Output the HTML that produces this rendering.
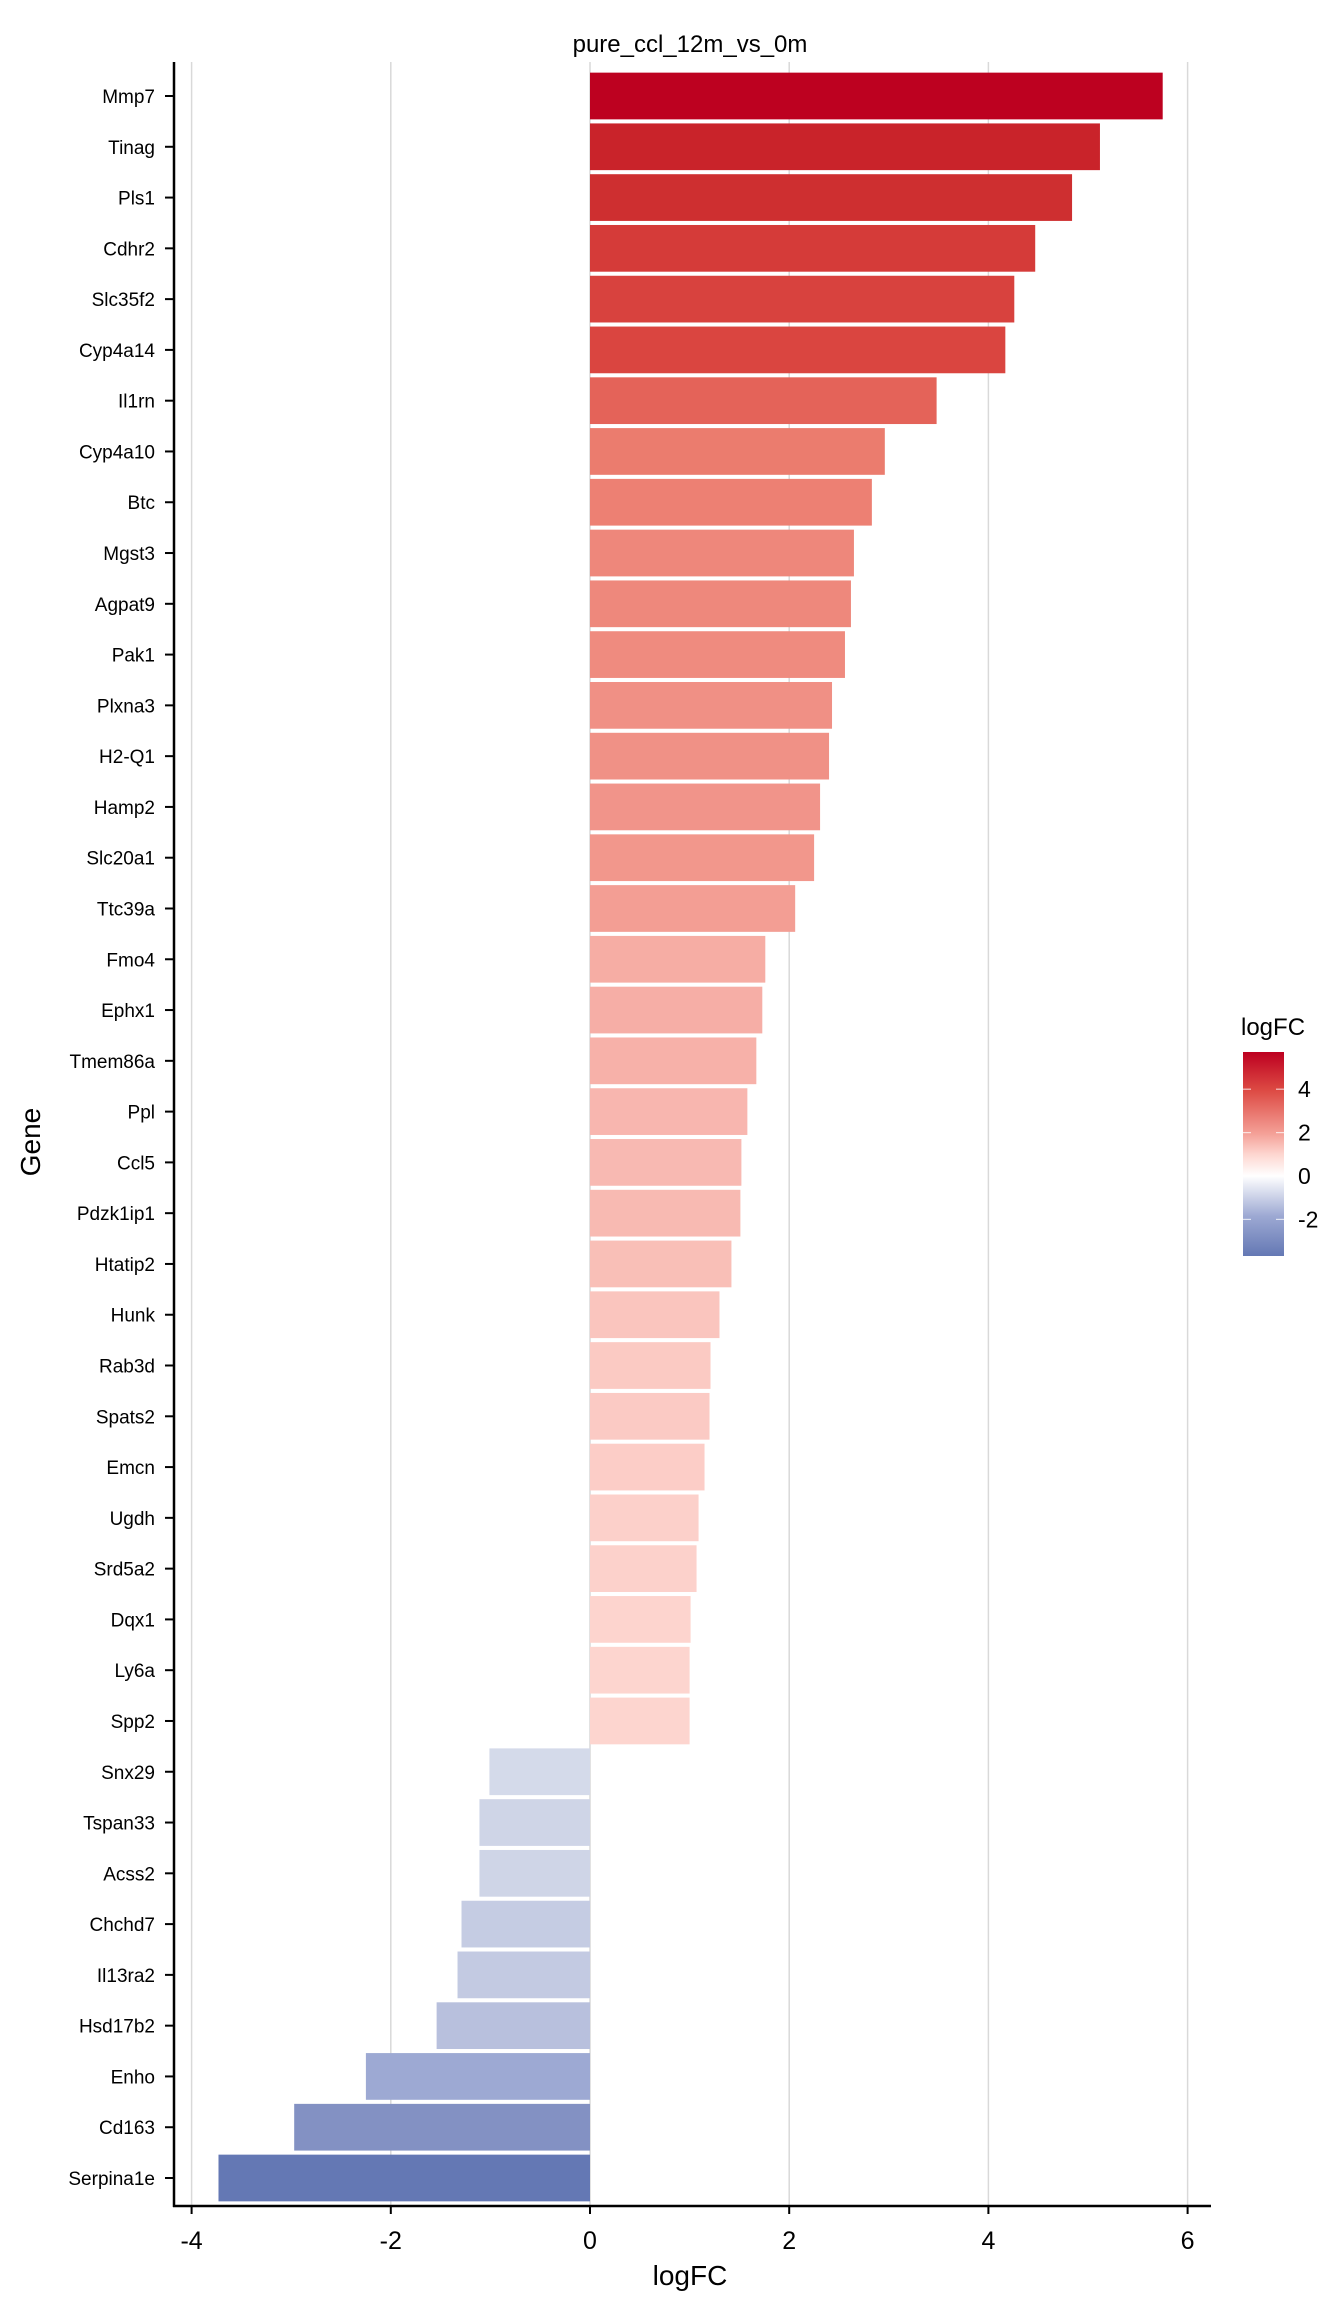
<!DOCTYPE html>
<html><head><meta charset="utf-8"><style>
body{margin:0;background:#fff;}
svg text{font-family:"Liberation Sans",Arial,sans-serif;fill:#000;}
</style></head><body>
<svg id="chart" width="1344" height="2304" xmlns="http://www.w3.org/2000/svg">
<defs><linearGradient id="lg" x1="0" y1="1" x2="0" y2="0">
<stop offset="0" stop-color="#6478B4"/><stop offset="0.196" stop-color="#9DA9D3"/><stop offset="0.393" stop-color="#FFFFFF"/><stop offset="0.5" stop-color="#FDD5CF"/><stop offset="0.6" stop-color="#F4A097"/><stop offset="0.81" stop-color="#DD4B44"/><stop offset="1" stop-color="#BD0020"/>
</linearGradient></defs>
<text x="690" y="52" font-size="24" text-anchor="middle">pure_ccl_12m_vs_0m</text>
<g id="grid"></g><g id="bars"></g><g id="yaxis"></g><g id="xaxis"></g>
<text x="690" y="2285" font-size="28" text-anchor="middle">logFC</text>
<text x="0" y="0" font-size="28" text-anchor="middle" transform="translate(40,1142) rotate(-90)">Gene</text>
<g>
<text x="1241" y="1035" font-size="24">logFC</text>
<rect x="1243" y="1052" width="41" height="204" fill="url(#lg)"/>
<g id="legticks"></g>
</g>
</svg>
<script>
const genes=["Mmp7","Tinag","Pls1","Cdhr2","Slc35f2","Cyp4a14","Il1rn","Cyp4a10","Btc","Mgst3","Agpat9","Pak1","Plxna3","H2-Q1","Hamp2","Slc20a1","Ttc39a","Fmo4","Ephx1","Tmem86a","Ppl","Ccl5","Pdzk1ip1","Htatip2","Hunk","Rab3d","Spats2","Emcn","Ugdh","Srd5a2","Dqx1","Ly6a","Spp2","Snx29","Tspan33","Acss2","Chchd7","Il13ra2","Hsd17b2","Enho","Cd163","Serpina1e"];
const logFC=[5.75,5.12,4.84,4.47,4.26,4.17,3.48,2.96,2.83,2.65,2.62,2.56,2.43,2.40,2.31,2.25,2.06,1.76,1.73,1.67,1.58,1.52,1.51,1.42,1.30,1.21,1.20,1.15,1.09,1.07,1.01,1.00,1.00,-1.01,-1.11,-1.11,-1.29,-1.33,-1.54,-2.25,-2.97,-3.73];
const xTicks=[-4,-2,0,2,4,6];
const legTicks=[4,2,0,-2];
const NS="http://www.w3.org/2000/svg";
const x0=590,ux=99.6,yTop=96,pitch=(2178-96)/(genes.length-1),bh=pitch*0.92;
const X=v=>x0+v*ux, Y=i=>yTop+i*pitch;
const hex=h=>[1,3,5].map(k=>parseInt(h.substr(k,2),16));
const posStops=[[0,"#FFFFFF"],[1,"#FDD5CF"],[2,"#F4A097"],[3,"#EB7A6C"],[4,"#DD4B44"],[5,"#CB2A2C"],[5.77,"#BD0020"]];
const negStops=[[0,"#FFFFFF"],[1,"#D5DAEA"],[1.5,"#BAC1DE"],[2.25,"#9DA9D3"],[3,"#8290C2"],[3.73,"#6478B4"]];
function col(v){const s=v>=0?posStops:negStops;const a=Math.abs(v);
for(let i=1;i<s.length;i++){if(a<=s[i][0]||i==s.length-1){const t=Math.min(1,(a-s[i-1][0])/(s[i][0]-s[i-1][0]));const c0=hex(s[i-1][1]),c1=hex(s[i][1]);return "rgb("+c0.map((c,k)=>Math.round(c+(c1[k]-c)*t)).join(",")+")";}}}
function mk(t,a,p){const e=document.createElementNS(NS,t);for(const k in a)e.setAttribute(k,a[k]);p.appendChild(e);return e;}
const grid=document.getElementById("grid"),bars=document.getElementById("bars"),ya=document.getElementById("yaxis"),xa=document.getElementById("xaxis");
xTicks.forEach(t=>{
const g=mk("line",{x1:X(t),x2:X(t),y1:62,y2:2206,stroke:"#D9D9D9","stroke-width":1.5},grid);


const tk=mk("line",{x1:X(t),x2:X(t),y1:2206,y2:2214,stroke:"#000","stroke-width":2},xa);


const tl=mk("text",{x:X(t),y:2249,"font-size":25,"text-anchor":"middle"},xa);tl.textContent=t;


});
genes.forEach((g,i)=>{const v=logFC[i];
const r=mk("rect",{x:Math.min(X(0),X(v)),y:Y(i)-bh/2,width:Math.abs(X(v)-X(0)),height:bh,fill:col(v)},bars);


const tk=mk("line",{x1:165,x2:174,y1:Y(i),y2:Y(i),stroke:"#000","stroke-width":2},ya);


const tl=mk("text",{x:155,y:Y(i)+7,"font-size":19,"text-anchor":"end"},ya);tl.textContent=g;


});
const yl=mk("line",{x1:174,x2:174,y1:62,y2:2207,stroke:"#000","stroke-width":2.5},ya);


const xl=mk("line",{x1:173,x2:1211,y1:2206,y2:2206,stroke:"#000","stroke-width":2.5},xa);


const lt=document.getElementById("legticks");
const LY=v=>1176-v*21.7;
legTicks.forEach(v=>{
const a=mk("line",{x1:1243,x2:1251,y1:LY(v),y2:LY(v),stroke:"#fff","stroke-width":1.2,opacity:0.7},lt);


const b=mk("line",{x1:1276,x2:1284,y1:LY(v),y2:LY(v),stroke:"#fff","stroke-width":1.2,opacity:0.7},lt);


const t=mk("text",{x:1298,y:LY(v)+8,"font-size":23},lt);t.textContent=v;


});
</script>
</body></html>
